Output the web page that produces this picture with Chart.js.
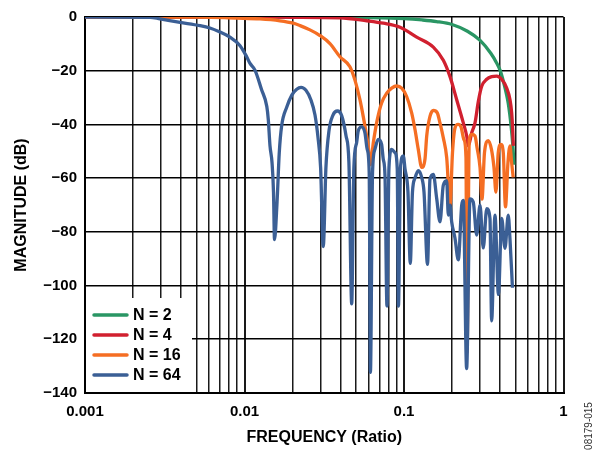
<!DOCTYPE html>
<html>
<head>
<meta charset="utf-8">
<script src="https://cdn.jsdelivr.net/npm/chart.js@4.4.1/dist/chart.umd.min.js"></script>
<style>
  html, body { margin: 0; padding: 0; background: #fff; }
  #wrap { position: relative; width: 605px; height: 450px; }
</style>
</head>
<body>
<div id="wrap"><canvas id="chart" width="605" height="450"></canvas></div>
<script>
// --- axis ticks ---
const xDecades = [0.001, 0.01, 0.1, 1];
const xTickLabels = ['0.001', '0.01', '0.1', '1'];
const yMin = -140, yMax = 0, yStep = 20;

// --- series (frequency ratio, magnitude dB) ---
const labels = ['N = 2', 'N = 4', 'N = 16', 'N = 64'];
const colors = ['#2A9664', '#D1202F', '#F56E23', '#3B5F95'];

const freqN2 = [0.001, 0.01, 0.03, 0.06, 0.1, 0.13, 0.16, 0.2, 0.25, 0.3, 0.35, 0.38, 0.4, 0.42, 0.44, 0.45, 0.46, 0.47, 0.48, 0.485, 0.488];
const magN2 = [0, 0, 0, -0.2, -0.6, -1.1, -1.7, -2.8, -5.3, -8.7, -13.5, -17, -19.8, -24, -29, -32, -36, -41, -47, -51, -55];

const freqN4 = [0.001, 0.01, 0.02, 0.0397, 0.0584, 0.0742, 0.0944, 0.1201, 0.1527, 0.1764, 0.1943, 0.214, 0.2354, 0.2473, 0.253, 0.2658, 0.2787, 0.2923, 0.307, 0.33, 0.3546, 0.3813, 0.4098, 0.4405, 0.462, 0.4733, 0.4802, 0.4844];
const magN4 = [0, 0, -0.1, -0.3, -1.4, -2.3, -3.8, -7.5, -11.2, -16.1, -22.2, -30.8, -39.4, -44.3, -48, -43.1, -39.4, -31.5, -25.8, -23.2, -22.2, -22, -23.2, -26.5, -30.8, -35.7, -41.9, -48];

const freqN16 = [0.001, 0.00525, 0.00885, 0.0125, 0.01669, 0.0202, 0.0223, 0.02573, 0.02973, 0.03434, 0.03967, 0.04581, 0.04925, 0.05293, 0.0555, 0.05833, 0.05967, 0.0616, 0.0642, 0.068, 0.0724, 0.0779, 0.0837, 0.0899, 0.0967, 0.1039, 0.1117, 0.1172, 0.1229, 0.1291, 0.1354, 0.1388, 0.1455, 0.1527, 0.1617, 0.1681, 0.1763, 0.1852, 0.1943, 0.2014, 0.2088, 0.2181, 0.2277, 0.2377, 0.2447, 0.2483, 0.2566, 0.2658, 0.2788, 0.287, 0.2996, 0.3083, 0.3196, 0.3377, 0.3534, 0.3664, 0.377, 0.3898, 0.4055, 0.4192, 0.4327, 0.4485, 0.4616, 0.4729, 0.4837];
const magN16 = [0, 0, -0.4, -0.7, -1.4, -2.3, -3.2, -4.8, -6.9, -9.9, -14.8, -18.5, -23.5, -30.8, -37, -44.3, -48, -55, -46.8, -38.2, -32, -28.4, -26.5, -25.7, -26.5, -29.6, -35.7, -41.9, -49.3, -56, -52.9, -44.3, -37, -34.8, -35.7, -39.4, -44.9, -52.3, -70, -50.5, -41.3, -40, -40.9, -45.7, -52.3, -125, -45.6, -43.7, -44.3, -48.6, -56, -67.8, -50.5, -46, -49.3, -56, -65.2, -50.5, -47.4, -50.5, -70.7, -54.2, -48, -54.2, -59.7];

const freqN64 = [0.001, 0.00256, 0.00295, 0.00394, 0.00525, 0.00607, 0.00701, 0.0081, 0.00935, 0.01032, 0.01083, 0.01163, 0.0128, 0.0138, 0.0141, 0.01445, 0.01488, 0.0152, 0.01542, 0.016, 0.01652, 0.01709, 0.01839, 0.0198, 0.02125, 0.02261, 0.02428, 0.0261, 0.02767, 0.0289, 0.03, 0.03117, 0.0324, 0.03385, 0.03588, 0.03826, 0.0407, 0.0433, 0.04515, 0.047, 0.0485, 0.05046, 0.05163, 0.0542, 0.05686, 0.0588, 0.0605, 0.0616, 0.0635, 0.0657, 0.0689, 0.0724, 0.0741, 0.076, 0.0782, 0.0805, 0.0837, 0.0878, 0.0907, 0.0923, 0.0951, 0.099, 0.1015, 0.1059, 0.1095, 0.113, 0.1172, 0.1229, 0.1291, 0.1335, 0.1404, 0.1455, 0.1527, 0.1604, 0.1681, 0.1763, 0.1852, 0.1896, 0.1943, 0.1991, 0.2088, 0.219, 0.23, 0.2354, 0.247, 0.2593, 0.2718, 0.2856, 0.2996, 0.314, 0.3301, 0.3459, 0.3544, 0.3718, 0.391, 0.4099, 0.4296, 0.4504, 0.4616, 0.4785];
const magN64 = [0, -0.1, -0.7, -2, -3.2, -4.1, -5.6, -7.5, -10.6, -14.8, -17.3, -19.8, -27.1, -33.3, -38.2, -48, -54.2, -65.2, -82.9, -68.9, -50.5, -40.6, -33.6, -29.1, -26.9, -26.2, -27.3, -30.9, -36.5, -44.9, -56, -85.5, -56, -42.4, -36.5, -35, -36.8, -44.2, -54.2, -106.8, -56, -46.8, -42.5, -40.9, -43.1, -49.3, -57.8, -132.3, -57.8, -49.3, -45.6, -47.4, -52.9, -59.1, -107.6, -56, -49.3, -50.5, -56.5, -107.6, -56, -51.7, -56.6, -65.2, -91.7, -65.2, -60, -57.2, -59.7, -65.2, -92.1, -60.4, -58.6, -67.7, -76.3, -62.7, -60.9, -73.8, -70.1, -76.3, -82.4, -90.4, -70.1, -68.3, -130.9, -67.7, -68.9, -81.2, -70.1, -86, -71.4, -75, -113.1, -73.8, -103.3, -75, -86.1, -73.8, -82.4, -100.8];

const seriesFreq = [freqN2, freqN4, freqN16, freqN64];
const seriesMag = [magN2, magN4, magN16, magN64];

const FONT = 'Arial, "Liberation Sans", Helvetica, sans-serif';

// log grid: 1..9 in every decade
const gridValues = [];
xDecades.slice(0, 3).forEach(d => {
    for (let m = 1; m < 10; m++) gridValues.push(Number((d * m).toPrecision(2)));
});
gridValues.push(1);

const datasets = labels.map((label, i) => ({
    label,
    data: seriesFreq[i].map((f, j) => ({ x: f, y: seriesMag[i][j] })),
    borderColor: colors[i],
    backgroundColor: colors[i],
    borderWidth: 3.3,
    pointRadius: 0,
    fill: false,
    cubicInterpolationMode: 'monotone',
    order: labels.length - i   // N = 64 on top
}));

// legend in the lower left corner of the plot, on a white patch
const insideLegend = {
    id: 'insideLegend',
    afterDraw(chart) {
        const ctx = chart.ctx;
        const area = chart.chartArea;
        ctx.save();
        ctx.fillStyle = '#fff';
        ctx.fillRect(area.left + 1, 298, 106, area.bottom - 1 - 298);
        ctx.font = 'bold 16px ' + FONT;
        ctx.textBaseline = 'middle';
        ctx.fillStyle = '#000';
        labels.forEach((label, i) => {
            const y = 315 + i * 20;
            ctx.strokeStyle = colors[i];
            ctx.lineWidth = 3.5;
            ctx.lineCap = 'round';
            ctx.beginPath();
            ctx.moveTo(94, y);
            ctx.lineTo(127, y);
            ctx.stroke();
            ctx.fillText(label, 133, y + 1);
        });
        // figure id along the right edge
        ctx.translate(589, 426);
        ctx.rotate(-Math.PI / 2);
        ctx.font = '10px ' + FONT;
        ctx.fillStyle = '#333';
        ctx.textAlign = 'center';
        ctx.fillText('08179-015', 0, 0);
        ctx.restore();
    }
};

new Chart(document.getElementById('chart'), {
    type: 'line',
    data: { datasets },
    options: {
        responsive: false,
        animation: false,
        devicePixelRatio: 1,
        layout: { padding: { left: 0, right: 41.5, top: 13, bottom: 0 } },
        plugins: { legend: { display: false }, tooltip: { enabled: false } },
        scales: {
            x: {
                type: 'logarithmic',
                min: 0.001,
                max: 1,
                afterBuildTicks: (scale) => {
                    scale.ticks = gridValues.map(v => ({ value: v, major: xDecades.includes(v) }));
                },
                afterFit: (scale) => { scale.height = 57; },
                grid: {
                    color: '#1a1a1a',
                    lineWidth: (c) => (c.tick && xDecades.includes(c.tick.value)) ? 2 : 1.5,
                    drawTicks: false
                },
                border: { display: true, color: '#000', width: 2 },
                ticks: {
                    autoSkip: false,
                    maxRotation: 0,
                    padding: 10,
                    color: '#000',
                    font: { family: FONT, size: 15, weight: 'bold' },
                    callback: (value) => {
                        const k = xDecades.indexOf(value);
                        return k >= 0 ? xTickLabels[k] : '';
                    }
                },
                title: {
                    display: true,
                    text: 'FREQUENCY (Ratio)',
                    color: '#000',
                    font: { family: FONT, size: 16, weight: 'bold' },
                    padding: { top: 0, bottom: 3 }
                }
            },
            y: {
                min: yMin,
                max: yMax,
                afterFit: (scale) => { scale.width = 85; },
                grid: { color: '#000', lineWidth: 1.6, drawTicks: false },
                border: { display: true, color: '#000', width: 2 },
                ticks: {
                    stepSize: yStep,
                    padding: 8,
                    color: '#000',
                    font: { family: FONT, size: 15, weight: 'bold' },
                    callback: (v) => v < 0 ? '\u2212' + Math.abs(v) : String(v)
                },
                title: {
                    display: true,
                    text: 'MAGNITUDE (dB)',
                    color: '#000',
                    font: { family: FONT, size: 16, weight: 'bold' },
                    padding: { top: 12, bottom: 0 }
                }
            }
        }
    },
    plugins: [insideLegend]
});
</script>
</body>
</html>
